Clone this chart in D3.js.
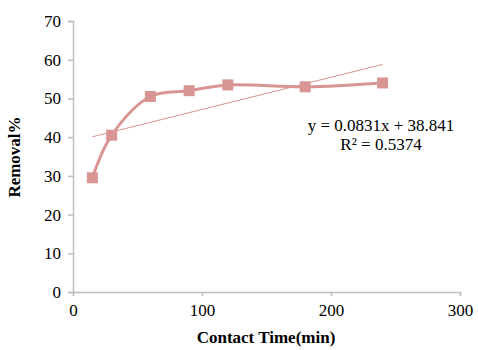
<!DOCTYPE html>
<html><head><meta charset="utf-8">
<script src="https://cdn.jsdelivr.net/npm/d3@7"></script>
<style>body{margin:0;background:#fff;}svg{display:block;font-family:"Liberation Serif","Times New Roman",serif;}</style>
</head><body>
<svg id="c" width="478" height="350"></svg>
<script>
const times = [15, 30, 60, 90, 120, 180, 240];
const removal = [29.5, 40.5, 50.5, 52, 53.5, 53, 54];
const xTicks = [0, 100, 200, 300];
const yTicks = [0, 10, 20, 30, 40, 50, 60, 70];
const trend = {slope: 0.0831, intercept: 38.841, r2: "0.5374"};

const svg = d3.select("#c");
const x = d3.scaleLinear().domain([0, 300]).range([73, 460]);
const y = d3.scaleLinear().domain([0, 70]).range([292, 21]);
const col = "#d99594", axCol = "#bfbfbf";
const serif = "'Liberation Serif', 'Times New Roman', serif";

const xa = svg.append("g").attr("transform", "translate(0,292)")
  .call(d3.axisBottom(x).tickValues(xTicks).tickSize(4).tickPadding(8));
const ya = svg.append("g").attr("transform", "translate(73,0)")
  .call(d3.axisLeft(y).tickValues(yTicks).tickSize(5).tickPadding(7));
[xa, ya].forEach(a => {
  a.attr("font-family", serif).attr("font-size", 17);
  a.select(".domain").attr("stroke", axCol).attr("stroke-width", 1.5);
  a.selectAll(".tick line").attr("stroke", axCol).attr("stroke-width", 1.5);
  a.selectAll(".tick text").attr("fill", "#000");
});

// trendline
const tx = [times[0], times[times.length - 1]];
svg.append("line")
  .attr("x1", x(tx[0])).attr("y1", y(trend.slope * tx[0] + trend.intercept))
  .attr("x2", x(tx[1])).attr("y2", y(trend.slope * tx[1] + trend.intercept))
  .attr("stroke", col).attr("stroke-width", 1);

const pts = times.map((t, i) => [t, removal[i]]);
svg.append("path").datum(pts)
  .attr("d", d3.line().x(d => x(d[0])).y(d => y(d[1])).curve(d3.curveCatmullRom.alpha(0.5)))
  .attr("fill", "none").attr("stroke", col).attr("stroke-width", 3);

svg.selectAll("rect.m").data(pts).join("rect").attr("class", "m")
  .attr("x", d => x(d[0]) - 5.5).attr("y", d => y(d[1]) - 5.5)
  .attr("width", 11).attr("height", 11).attr("fill", col);

const t = svg.append("g").attr("font-family", serif).attr("font-size", 17);
t.append("text").attr("x", 381).attr("y", 131).attr("text-anchor", "middle")
  .text(`y = ${trend.slope}x + ${trend.intercept}`);
t.append("text").attr("x", 381).attr("y", 150).attr("text-anchor", "middle")
  .text(`R² = ${trend.r2}`);
t.append("text").attr("x", 266).attr("y", 343).attr("text-anchor", "middle")
  .attr("font-weight", "bold").text("Contact Time(min)");
t.append("text").attr("transform", "translate(20,157) rotate(-90)").attr("text-anchor", "middle")
  .attr("font-weight", "bold").text("Removal%");
</script>
</body></html>
